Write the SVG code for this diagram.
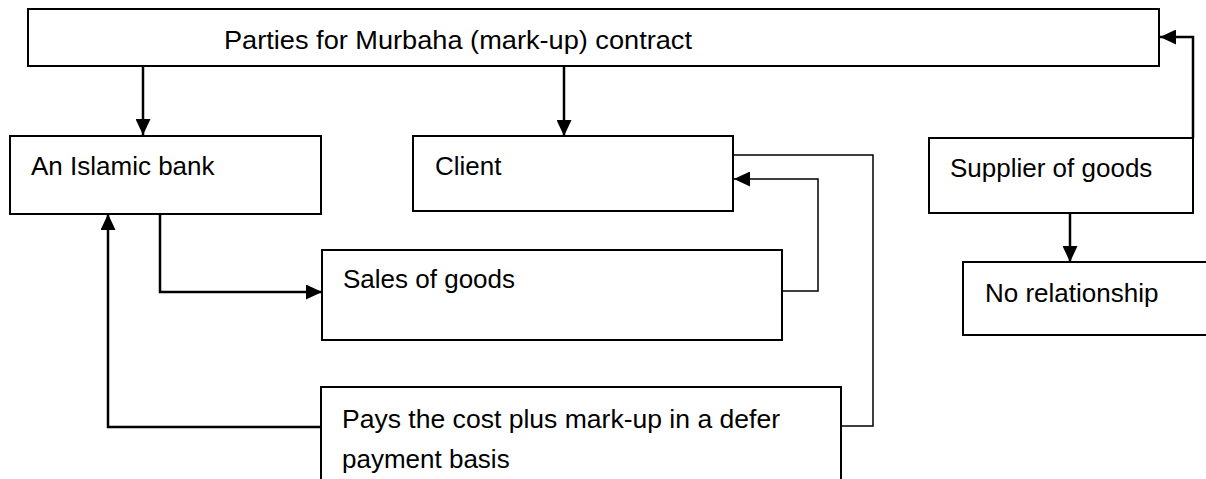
<svg xmlns="http://www.w3.org/2000/svg" width="1206" height="479" viewBox="0 0 1206 479">
<style>
.box{fill:#fff;stroke:#000;stroke-width:2}
.lbl{font-family:"Liberation Sans",Arial,sans-serif;font-size:26px;fill:#000}
.thick{fill:none;stroke:#000;stroke-width:2.5}
.thin{fill:none;stroke:#000;stroke-width:1.5}
</style>
<defs>
<marker id="ah" markerUnits="userSpaceOnUse" markerWidth="16" markerHeight="15" refX="16" refY="7.5" orient="auto">
<path d="M0,0 L16,7.5 L0,15 z" fill="#000"/>
</marker>
</defs>
<rect width="1206" height="479" fill="#fff"/>
<g id="connectors">
<path class="thick" d="M143,66 V135" marker-end="url(#ah)"/>
<path class="thick" d="M564,66 V136" marker-end="url(#ah)"/>
<path class="thick" d="M1193,138 V37 H1160" marker-end="url(#ah)"/>
<path class="thick" d="M1070,213 V262" marker-end="url(#ah)"/>
<path class="thick" d="M160,213 V292 H322" marker-end="url(#ah)"/>
<path class="thick" d="M321,427 H108 V214" marker-end="url(#ah)"/>
<path class="thin" d="M782,291 H818 V179 H734" marker-end="url(#ah)"/>
<path class="thin" d="M733,155 H873 V426 H841"/>
</g>
<g id="top">
<rect class="box" x="28" y="9" width="1131" height="57"/>
<text class="lbl" x="224" y="49" textLength="468" lengthAdjust="spacingAndGlyphs">Parties for Murbaha (mark-up) contract</text>
</g>
<g id="bank">
<rect class="box" x="10" y="136" width="311" height="78"/>
<text class="lbl" x="31" y="175">An Islamic bank</text>
</g>
<g id="client">
<rect class="box" x="413" y="136" width="320" height="75"/>
<text class="lbl" x="435" y="175">Client</text>
</g>
<g id="supplier">
<rect class="box" x="929" y="138" width="264" height="75"/>
<text class="lbl" x="950" y="177">Supplier of goods</text>
</g>
<g id="norel">
<rect class="box" x="963" y="262" width="260" height="73"/>
<text class="lbl" x="985" y="302">No relationship</text>
</g>
<g id="sales">
<rect class="box" x="322" y="250" width="460" height="90"/>
<text class="lbl" x="343" y="288">Sales of goods</text>
</g>
<g id="pays">
<rect class="box" x="321" y="387" width="520" height="110"/>
<text class="lbl" x="342" y="428" textLength="438" lengthAdjust="spacingAndGlyphs">Pays the cost plus mark-up in a defer</text>
<text class="lbl" x="342" y="468">payment basis</text>
</g>
</svg>
